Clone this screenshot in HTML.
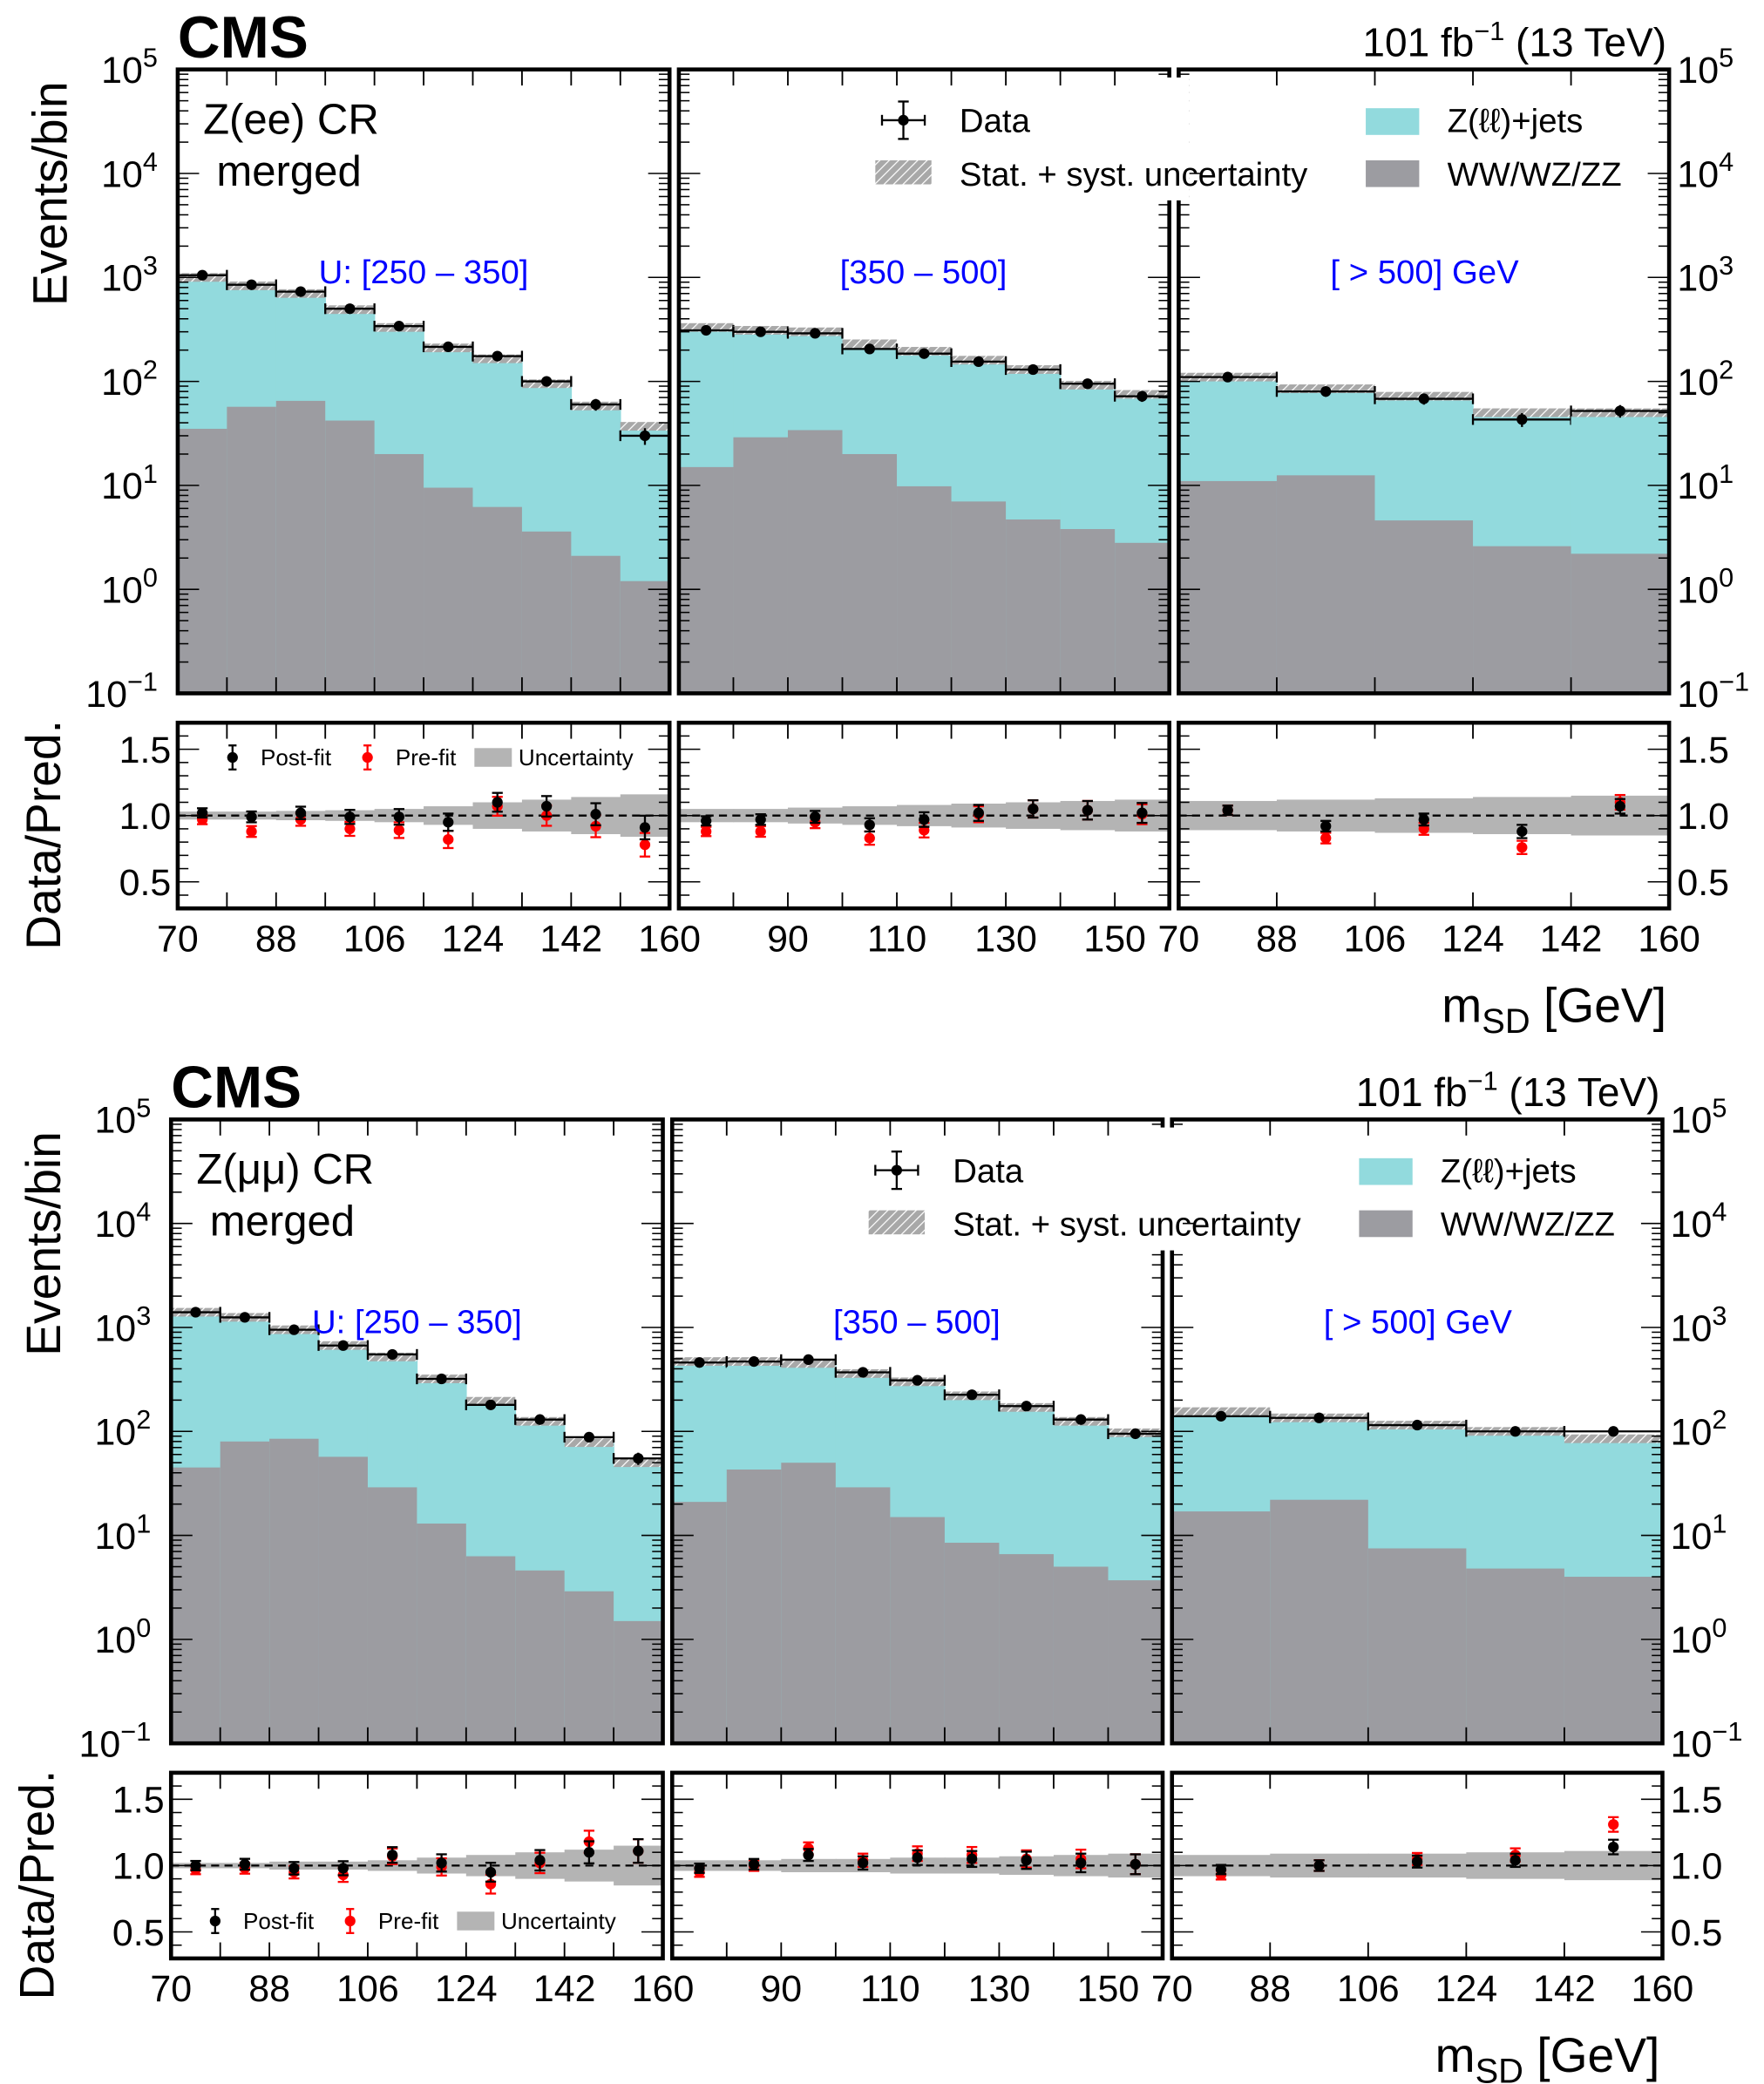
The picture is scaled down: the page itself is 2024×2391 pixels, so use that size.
<!DOCTYPE html>
<html><head><meta charset="utf-8"><style>
html,body{margin:0;padding:0;background:#fff}
svg{display:block;font-family:"Liberation Sans",sans-serif}
</style></head><body>
<svg id="c" width="2024" height="2391" viewBox="0 0 1320 1560" preserveAspectRatio="none" xmlns="http://www.w3.org/2000/svg">
<defs><pattern id="hatch" width="5" height="5" patternUnits="userSpaceOnUse" patternTransform="rotate(45)"><rect width="5" height="5" fill="#a8a8a8"/><line x1="0" y1="0" x2="0" y2="5" stroke="#fff" stroke-width="1.6"/></pattern></defs>
</svg>
<script>
// ---- data (top: Z(ee), bottom: Z(mumu)) ----
const binEdgesP1 = [70,79,88,97,106,115,124,133,142,151,160];
const binEdgesP2 = [70,80,90,100,110,120,130,140,150,160];
const binEdgesP3 = [70,88,106,124,142,160];
const tickLabelsP1 = ["70","88","106","124","142","160"];
const tickLabelsP2 = ["90","110","130","150"];
const tickLabelsP3 = ["70","88","106","124","142","160"];
const yTickExp = [5,4,3,2,1,0,-1];
const ratioTicks = ["1.5","1.0","0.5"];

const ee_data_p1 = [1050,850,730,500,340,215,175,100,60,30];
const ee_total_p1 = [1000,830,700,490,330,210,165,95,58,37];
const ee_vv_p1 = [35,57,65,42,20,9.5,6.2,3.6,2.1,1.2];
const ee_data_p2 = [310,300,290,205,185,155,130,95,72];
const ee_total_p2 = [330,310,300,230,195,160,130,92,75];
const ee_vv_p2 = [15,29,34,20,9.8,7,4.7,3.8,2.8];
const ee_data_p3 = [110,80,68,43,52];
const ee_total_p3 = [110,85,72,50,50];
const ee_vv_p3 = [11,12.5,4.6,2.6,2.2];
const ee_post_p1 = [1.02,0.99,1.02,0.99,0.99,0.95,1.10,1.07,1.01,0.91];
const ee_pre_p1 = [0.97,0.88,0.97,0.90,0.89,0.82,1.07,1.00,0.92,0.78];
const ee_unc_p1 = [0.03,0.03,0.035,0.04,0.05,0.07,0.1,0.12,0.14,0.16];
const ee_post_p2 = [0.96,0.97,0.99,0.93,0.97,1.02,1.05,1.04,1.02];
const ee_pre_p2 = [0.88,0.88,0.95,0.83,0.89,1.01,1.05,1.04,1.01];
const ee_unc_p2 = [0.05,0.05,0.06,0.07,0.08,0.09,0.1,0.11,0.12];
const ee_post_p3 = [1.04,0.92,0.97,0.88,1.07];
const ee_pre_p3 = [1.04,0.83,0.90,0.76,1.10];
const ee_unc_p3 = [0.11,0.12,0.13,0.14,0.15];

const mm_data_p1 = [1400,1250,950,670,550,320,180,130,88,55];
const mm_total_p1 = [1400,1250,950,670,520,320,195,125,78,50];
const mm_vv_p1 = [45,80,85,57,29,13,6.3,4.6,2.9,1.5];
const mm_data_p2 = [460,470,490,370,310,225,175,130,95];
const mm_total_p2 = [470,470,450,360,300,220,170,125,97];
const mm_vv_p2 = [21,43,50,29,15,8.5,6.6,5,3.7];
const mm_data_p3 = [140,135,115,100,100];
const mm_total_p3 = [155,135,115,100,85];
const mm_vv_p3 = [17,22,7.5,4.8,4.0];
const mm_post_p1 = [1.00,1.01,0.98,0.98,1.08,1.02,0.95,1.04,1.10,1.11];
const mm_pre_p1 = [0.97,0.98,0.95,0.93,1.07,0.99,0.86,1.02,1.18,1.11];
const mm_unc_p1 = [0.02,0.02,0.03,0.03,0.04,0.06,0.08,0.1,0.12,0.15];
const mm_post_p2 = [0.98,1.01,1.08,1.02,1.06,1.05,1.04,1.02,1.01];
const mm_pre_p2 = [0.95,1.00,1.13,1.04,1.09,1.08,1.05,1.05,1.01];
const mm_unc_p2 = [0.04,0.04,0.05,0.05,0.06,0.06,0.07,0.08,0.09];
const mm_post_p3 = [0.97,1.00,1.03,1.04,1.14];
const mm_pre_p3 = [0.93,1.00,1.05,1.08,1.31];
const mm_unc_p3 = [0.08,0.09,0.09,0.1,0.11];

const NS="http://www.w3.org/2000/svg";
const svg=document.getElementById('c');
function el(tag,attrs,parent,text){const e=document.createElementNS(NS,tag);for(const k in attrs)e.setAttribute(k,attrs[k]);if(text!==undefined)e.textContent=text;(parent||svg).appendChild(e);return e;}

function drawBlock(yo, xo, D, chan, labelTxt, legendY, legendDx){
  const g=el('g',{});
  
  
  const top=52+yo, bot=519+yo, rTop=541+yo, rBot=680+yo;
  const panels=[[133+xo,501+xo,binEdgesP1],[508+xo,875+xo,binEdgesP2],[882+xo,1249+xo,binEdgesP3]];
  const yLog=v=>top+(5-Math.log10(v))*(bot-top)/6;
  const yR=v=>rTop+(1.7-v)*(rBot-rTop)/1.4;
  panels.forEach((p,pi)=>{
    const [x0,x1,edges]=p;
    const xs=v=>x0+(v-edges[0])/(edges[edges.length-1]-edges[0])*(x1-x0);
    const data=D.data[pi],tot=D.total[pi],vv=D.vv[pi];
    const pg=el('g',{},g);
    
    
    for(let i=0;i<data.length;i++){
      const a=xs(edges[i]),b=xs(edges[i+1]);
      const c=el('rect',{x:a,y:yLog(tot[i]),width:b-a+0.5,height:bot-yLog(tot[i]),fill:'#92dadd'},pg);
      
      
      const d=el('rect',{x:a,y:yLog(vv[i]),width:b-a+0.5,height:bot-yLog(vv[i]),fill:'#9c9ca1'},pg);
      
      
      const h=el('rect',{x:a,y:yLog(tot[i]*1.1),width:b-a,height:yLog(tot[i]/1.1)-yLog(tot[i]*1.1),fill:'url(#hatch)'},pg);
      
      
      const m=(a+b)/2,yd=yLog(data[i]),e=Math.sqrt(data[i]);
      const dp=el('g',{},pg);
      
      
      el('line',{x1:a,x2:b,y1:yd,y2:yd,stroke:'#000','stroke-width':1.5},dp);
      el('line',{x1:a,x2:a,y1:yd-4,y2:yd+4,stroke:'#000','stroke-width':1.5},dp);
      el('line',{x1:b,x2:b,y1:yd-4,y2:yd+4,stroke:'#000','stroke-width':1.5},dp);
      el('line',{x1:m,x2:m,y1:yLog(data[i]+e),y2:yLog(Math.max(data[i]-e,0.1)),stroke:'#000','stroke-width':1.5},dp);
      el('circle',{cx:m,cy:yd,r:4,fill:'#000'},dp);
      const u=D.unc[pi][i];
      const ub=el('rect',{x:a,y:yR(1+u),width:b-a+0.5,height:yR(1-u)-yR(1+u),fill:'#b4b4b4'},pg);
      
      
    }
    el('line',{x1:x0,x2:x1,y1:yR(1),y2:yR(1),stroke:'#000','stroke-width':1.5,'stroke-dasharray':'6,4'},pg);
    for(let i=0;i<data.length;i++){
      const m=(xs(edges[i])+xs(edges[i+1]))/2;
      [[D.pre[pi][i],'#f00','pre-fit-point'],[D.post[pi][i],'#000','post-fit-point']].forEach(([v,col,nm])=>{
        const err=0.035+0.01*i*(pi==0?0.6:0.5);
        const q=el('g',{},pg);
        
        
        el('line',{x1:m,x2:m,y1:yR(v+err),y2:yR(v-err),stroke:col,'stroke-width':1.5},q);
        el('line',{x1:m-4,x2:m+4,y1:yR(v+err),y2:yR(v+err),stroke:col,'stroke-width':1.5},q);
        el('line',{x1:m-4,x2:m+4,y1:yR(v-err),y2:yR(v-err),stroke:col,'stroke-width':1.5},q);
        el('circle',{cx:m,cy:yR(v),r:4,fill:col},q);
      });
    }
    edges.forEach(v=>{const x=xs(v);
      el('line',{x1:x,x2:x,y1:top,y2:top+12,stroke:'#000','stroke-width':1.2},pg);
      el('line',{x1:x,x2:x,y1:bot,y2:bot-12,stroke:'#000','stroke-width':1.2},pg);
      el('line',{x1:x,x2:x,y1:rTop,y2:rTop+12,stroke:'#000','stroke-width':1.2},pg);
      el('line',{x1:x,x2:x,y1:rBot,y2:rBot-12,stroke:'#000','stroke-width':1.2},pg);});
    for(let d=-1;d<5;d++){for(let k=1;k<10;k++){const y=yLog(k*Math.pow(10,d));const L=k==1?16:8;
      el('line',{x1:x0,x2:x0+L,y1:y,y2:y,stroke:'#000','stroke-width':1},pg);
      el('line',{x1:x1-L,x2:x1,y1:y,y2:y,stroke:'#000','stroke-width':1},pg);}}
    for(let j=4;j<=17;j++){const v=j/10;const y=yR(v);const L=(j%5==0)?16:8;
      el('line',{x1:x0,x2:x0+L,y1:y,y2:y,stroke:'#000','stroke-width':1},pg);
      el('line',{x1:x1-L,x2:x1,y1:y,y2:y,stroke:'#000','stroke-width':1},pg);}
    el('rect',{x:x0,y:top,width:x1-x0,height:bot-top,fill:'none',stroke:'#000','stroke-width':3},pg);
    el('rect',{x:x0,y:rTop,width:x1-x0,height:rBot-rTop,fill:'none',stroke:'#000','stroke-width':3},pg);
    const labs=[tickLabelsP1,tickLabelsP2,tickLabelsP3][pi];
    const vals=pi==1?[90,110,130,150]:[70,88,106,124,142,160];
    labs.forEach((t,j)=>{const x=xs(vals[j]);
      el('text',{x:x,y:712+yo,'font-size':28,'text-anchor':'middle'},g,t);});
  });
  el('rect',{x:860+xo,y:58+yo,width:30,height:92,fill:'#fff'},g);
  yTickExp.forEach(e=>{const y=yLog(Math.pow(10,e))+10;
    const t1=el('text',{x:118+xo,y:y,'font-size':28,'text-anchor':'end'},g,'10');
    el('tspan',{dy:-12,'font-size':20},t1,e<0?'\u2212'+(-e):''+e);
    const t2=el('text',{x:1255+xo,y:y,'font-size':28},g,'10');
    el('tspan',{dy:-12,'font-size':20},t2,e<0?'\u2212'+(-e):''+e);});
  ratioTicks.forEach(t=>{const y=yR(parseFloat(t))+10;
    el('text',{x:128+xo,y:y,'font-size':28,'text-anchor':'end'},g,t);
    el('text',{x:1255+xo,y:y,'font-size':28},g,t);});
  el('text',{x:133+xo,y:43+yo,'font-size':44,'font-weight':'bold'},g,'CMS');
  const lum=el('text',{x:1247+xo,y:42+yo,'font-size':30,'text-anchor':'end'},g,'101 fb');
  el('tspan',{dy:-12,'font-size':20},lum,'\u22121');
  el('tspan',{dy:12},lum,' (13 TeV)');
  el('text',{x:152+xo,y:100+yo,'font-size':32},g,labelTxt);
  el('text',{x:162+xo,y:139+yo,'font-size':32},g,'merged');
  el('text',{x:317+xo,y:212+yo,'font-size':25,fill:'#00f','text-anchor':'middle'},g,'U: [250 \u2013 350]');
  el('text',{x:691+xo,y:212+yo,'font-size':25,fill:'#00f','text-anchor':'middle'},g,'[350 \u2013 500]');
  el('text',{x:1066+xo,y:212+yo,'font-size':25,fill:'#00f','text-anchor':'middle'},g,'[ > 500] GeV');
  el('text',{transform:`translate(${50+xo},${145+yo}) rotate(-90)`,'font-size':36,'text-anchor':'middle'},g,'Events/bin');
  el('text',{transform:`translate(${45+xo},${625+yo}) rotate(-90)`,'font-size':36,'text-anchor':'middle'},g,'Data/Pred.');
  const ms=el('text',{x:1247+xo,y:765+yo,'font-size':36,'text-anchor':'end'},g,'m');
  el('tspan',{dy:8,'font-size':26},ms,'SD');
  el('tspan',{dy:-8},ms,' [GeV]');
  const lg=el('g',{},g);
  
  
  el('line',{x1:660+xo,x2:692+xo,y1:90+yo,y2:90+yo,stroke:'#000','stroke-width':1.5},lg);
  el('line',{x1:660+xo,x2:660+xo,y1:86+yo,y2:94+yo,stroke:'#000','stroke-width':1.5},lg);
  el('line',{x1:692+xo,x2:692+xo,y1:86+yo,y2:94+yo,stroke:'#000','stroke-width':1.5},lg);
  el('line',{x1:676+xo,x2:676+xo,y1:76+yo,y2:104+yo,stroke:'#000','stroke-width':1.5},lg);
  el('line',{x1:672+xo,x2:680+xo,y1:76+yo,y2:76+yo,stroke:'#000','stroke-width':1.5},lg);
  el('line',{x1:672+xo,x2:680+xo,y1:104+yo,y2:104+yo,stroke:'#000','stroke-width':1.5},lg);
  el('circle',{cx:676+xo,cy:90+yo,r:4},lg);
  el('text',{x:718+xo,y:99+yo,'font-size':25},lg,'Data');
  el('rect',{x:655+xo,y:120+yo,width:42,height:18,fill:'url(#hatch)'},lg);
  el('text',{x:718+xo,y:139+yo,'font-size':25},lg,'Stat. + syst. uncertainty');
  el('rect',{x:1022+xo,y:81+yo,width:40,height:20,fill:'#92dadd'},lg);
  el('text',{x:1083+xo,y:99+yo,'font-size':25},lg,'Z(\u2113\u2113)+jets');
  el('rect',{x:1022+xo,y:120+yo,width:40,height:20,fill:'#9c9ca1'},lg);
  el('text',{x:1083+xo,y:139+yo,'font-size':25},lg,'WW/WZ/ZZ');
  const rl=el('g',{},g);
  
  
  const ly=legendY, lx=legendDx;
  [[174,'#000','Post-fit',195],[275,'#f00','Pre-fit',296]].forEach(([x,c,t,tx])=>{
    el('line',{x1:x+lx,x2:x+lx,y1:ly-9,y2:ly+9,stroke:c,'stroke-width':1.5},rl);
    el('line',{x1:x+lx-3,x2:x+lx+3,y1:ly-9,y2:ly-9,stroke:c,'stroke-width':1.5},rl);
    el('line',{x1:x+lx-3,x2:x+lx+3,y1:ly+9,y2:ly+9,stroke:c,'stroke-width':1.5},rl);
    el('circle',{cx:x+lx,cy:ly,r:4,fill:c},rl);
    el('text',{x:tx+lx,y:ly+6,'font-size':17},rl,t);});
  el('rect',{x:355+lx,y:ly-7,width:28,height:14,fill:'#b4b4b4'},rl);
  el('text',{x:388+lx,y:ly+6,'font-size':17},rl,'Uncertainty');
}
drawBlock(0,0,{data:[ee_data_p1,ee_data_p2,ee_data_p3],total:[ee_total_p1,ee_total_p2,ee_total_p3],vv:[ee_vv_p1,ee_vv_p2,ee_vv_p3],post:[ee_post_p1,ee_post_p2,ee_post_p3],pre:[ee_pre_p1,ee_pre_p2,ee_pre_p3],unc:[ee_unc_p1,ee_unc_p2,ee_unc_p3]},'zee','Z(ee) CR',567,0);
drawBlock(786,-5,{data:[mm_data_p1,mm_data_p2,mm_data_p3],total:[mm_total_p1,mm_total_p2,mm_total_p3],vv:[mm_vv_p1,mm_vv_p2,mm_vv_p3],post:[mm_post_p1,mm_post_p2,mm_post_p3],pre:[mm_pre_p1,mm_pre_p2,mm_pre_p3],unc:[mm_unc_p1,mm_unc_p2,mm_unc_p3]},'zmumu','Z(\u03bc\u03bc) CR',1438,-13);
</script>
</body></html>
